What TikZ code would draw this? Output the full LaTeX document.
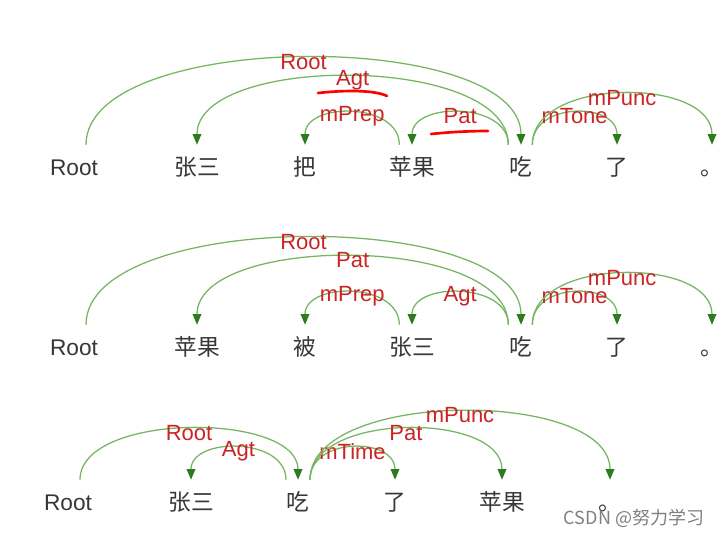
\documentclass[tikz,border=0pt]{standalone}
\usepackage{fontspec}
\setmainfont{Liberation Sans}
\newfontfamily\cjk{Noto Sans CJK SC}
\usetikzlibrary{arrows.meta}

\definecolor{arcgreen}{RGB}{118,182,98}
\definecolor{tipgreen}{RGB}{46,122,30}
\definecolor{lblred}{RGB}{204,36,36}
\definecolor{wordgray}{RGB}{55,55,55}

\begin{document}
\begin{tikzpicture}[x=0.75pt, y=-0.75pt,
  word/.style={anchor=base, font=\fontsize{17}{20}\selectfont, text=wordgray, inner xsep=0pt, inner ysep=10.5pt, text height=12pt, text depth=0pt},
  dep/.style={draw=arcgreen, line width=0.95pt, -{Triangle[length=8pt, width=6.5pt, color=tipgreen]}},
  rel/.style={font=\fontsize{16.5}{18}\selectfont, text=lblred, inner sep=0pt, pos=0.5, yshift=-3pt},
  scribble/.style={draw=red, line width=2pt, line cap=round}]
  \fill[white] (0,0) rectangle (724,536);
  % first sentence
  \foreach \n/\x/\w in {r1/74/Root, a1/197/{\cjk 张三}, b1/305/{\cjk 把}, c1/412/{\cjk 苹果}, v1/521/{\cjk 吃}, t1/617/{\cjk 了}, p1/712/{\cjk 。}} \node[word] (\n) at (\x,175) {\w};
  \draw[dep] ([xshift=9pt]r1.north) .. controls +(0,-116) and +(0,-116) .. (v1.north) node[rel] (l1root) {Root};
  \draw[dep] ([xshift=-9.5pt]v1.north) .. controls +(0,-91) and +(0,-91) .. (a1.north) node[rel] (l1agt) {Agt};
  \draw[dep] ([xshift=-9.5pt]c1.north) .. controls +(0,-43) and +(0,-43) .. (b1.north) node[rel] (l1prep) {mPrep};
  \draw[dep] ([xshift=-9.5pt]v1.north) .. controls +(0,-43) and +(0,-43) .. (c1.north) node[rel] (l1pat) {Pat};
  \draw[dep] ([xshift=8.5pt]v1.north) .. controls +(0,-43) and +(0,-43) .. (t1.north) node[rel] (l1tone) {mTone};
  \draw[dep] ([xshift=8.5pt]v1.north) .. controls +(0,-68) and +(0,-68) .. (p1.north) node[rel] (l1punc) {mPunc};
  \draw[scribble] (318,93) .. controls (345,90) and (375,90) .. (387,96);
  \draw[scribble] (431,134) .. controls (450,132) and (470,131) .. (488,131);
  % second sentence
  \begin{scope}[shift={(0,180)}]
    \foreach \n/\x/\w in {r2/74/Root, a2/197/{\cjk 苹果}, b2/305/{\cjk 被}, c2/412/{\cjk 张三}, v2/521/{\cjk 吃}, t2/617/{\cjk 了}, p2/712/{\cjk 。}} \node[word] (\n) at (\x,175) {\w};
    \draw[dep] ([xshift=9pt]r2.north) .. controls +(0,-116) and +(0,-116) .. (v2.north) node[rel] (l2root) {Root};
    \draw[dep] ([xshift=-9.5pt]v2.north) .. controls +(0,-91) and +(0,-91) .. (a2.north) node[rel] (l2pat) {Pat};
    \draw[dep] ([xshift=-9.5pt]c2.north) .. controls +(0,-43) and +(0,-43) .. (b2.north) node[rel] (l2prep) {mPrep};
    \draw[dep] ([xshift=-9.5pt]v2.north) .. controls +(0,-43) and +(0,-43) .. (c2.north) node[rel] (l2agt) {Agt};
    \draw[dep] ([xshift=8.5pt]v2.north) .. controls +(0,-43) and +(0,-43) .. (t2.north) node[rel] (l2tone) {mTone};
    \draw[dep] ([xshift=8.5pt]v2.north) .. controls +(0,-68) and +(0,-68) .. (p2.north) node[rel] (l2punc) {mPunc};
  \end{scope}
  % third sentence
  \foreach \n/\x/\w in {r3/68/Root, a3/191/{\cjk 张三}, v3/298/{\cjk 吃}, t3/395/{\cjk 了}, c3/502/{\cjk 苹果}, p3/610/{\cjk 。}} \node[word] (\n) at (\x,510) {\w};
  \draw[dep] ([xshift=9pt]r3.north) .. controls +(0,-68) and +(0,-68) .. (v3.north) node[rel] (l3root) {Root};
  \draw[dep] ([xshift=-9pt]v3.north) .. controls +(0,-43) and +(0,-43) .. (a3.north) node[rel] (l3agt) {Agt};
  \draw[dep] ([xshift=9pt]v3.north) .. controls +(0,-43) and +(0,-43) .. (t3.north) node[rel] (l3time) {mTime};
  \draw[dep] ([xshift=9pt]v3.north) .. controls +(0,-68) and +(0,-68) .. (c3.north) node[rel] (l3pat) {Pat};
  \draw[dep] ([xshift=9pt]v3.north) .. controls +(0,-91) and +(0,-91) .. (p3.north) node[rel] (l3punc) {mPunc};
  \node[font=\cjk\fontsize{13.5}{16}\selectfont, text=black!50] (mark) at (634,518) {CSDN @努力学习};
\end{tikzpicture}
\end{document}
